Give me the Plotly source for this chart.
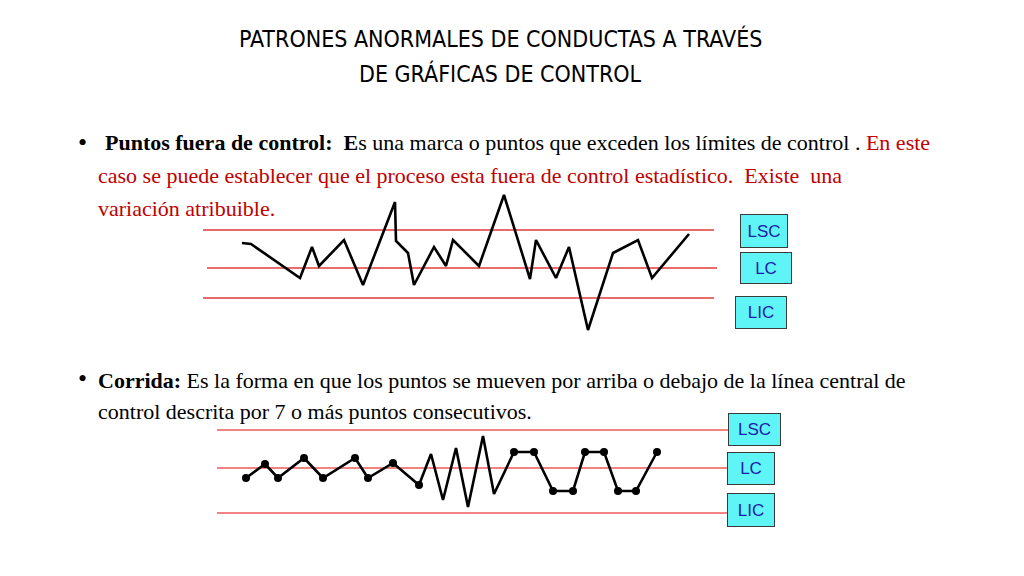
import plotly.graph_objects as go

# page has an 8px body margin; figure is sized to fill the rest
OFF = 8
W, H = 1024 - OFF, 576 - OFF

# ---- Chart 1: Puntos fuera de control ----
c1_x = [42, 51, 100, 112, 119, 144, 163, 195, 196, 208, 214, 234, 246, 253, 279,
        304, 330, 336, 356, 369, 388, 413, 438, 452, 489]
c1_y = [9.7, 9.6, 6.2, 9.3, 7.4, 10.0, 5.5, 13.8, 9.9, 8.7, 5.5, 9.3, 7.4, 10.0, 7.4,
        14.5, 6.1, 10.0, 6.2, 9.3, 1.0, 8.7, 10.0, 6.2, 10.6]
c1_limits = {"LSC": 11.0, "LC": 7.2, "LIC": 4.2}
c1_limit_x = {"LSC": [3, 514], "LC": [7, 517], "LIC": [3, 514]}

# ---- Chart 2: Corrida ----
c2_x = [36, 55, 68, 94, 113, 145, 158, 183, 209, 221, 233, 246, 258, 273, 284,
        304, 324, 343, 363, 375, 394, 408, 426, 447]
c2_y = [4.2, 5.6, 4.2, 6.2, 4.2, 6.2, 4.2, 5.7, 3.5, 6.6, 2.0, 7.2, 1.3, 8.4, 2.6,
        6.8, 6.8, 2.9, 2.9, 6.8, 6.8, 2.9, 2.9, 6.8]
c2_marked = [1, 1, 1, 1, 1, 1, 1, 1, 1, 0, 0, 0, 0, 0, 0,
             1, 1, 1, 1, 1, 1, 1, 1, 1]
c2_limits = {"LSC": 9.0, "LC": 5.2, "LIC": 0.7}
c2_limit_x = [7, 518]

limit_labels = ["LSC", "LC", "LIC"]

RED = "#E23B3B"
RED2 = "#EE5A5A"

def px(x):
    return (x - OFF) / W

def py(y):
    return 1 - (y - OFF) / H

def px_dom_x(a, b):
    return [px(a), px(b)]

def px_dom_y(top, bottom):
    return [py(bottom), py(top)]

fig = go.Figure()

# chart 1 limits
for name in limit_labels:
    fig.add_trace(go.Scatter(x=c1_limit_x[name], y=[c1_limits[name]] * 2, mode="lines",
                             line=dict(color=RED, width=1.3), xaxis="x", yaxis="y",
                             hoverinfo="skip", showlegend=False))
fig.add_trace(go.Scatter(x=c1_x, y=c1_y, mode="lines", line=dict(color="black", width=2.6),
                         xaxis="x", yaxis="y", showlegend=False))

# chart 2 limits
for name in limit_labels:
    fig.add_trace(go.Scatter(x=c2_limit_x, y=[c2_limits[name]] * 2, mode="lines",
                             line=dict(color=RED2, width=1.5), xaxis="x2", yaxis="y2",
                             hoverinfo="skip", showlegend=False))
fig.add_trace(go.Scatter(x=c2_x, y=c2_y, mode="lines", line=dict(color="black", width=2.6),
                         xaxis="x2", yaxis="y2", showlegend=False))
mx = [x for x, m in zip(c2_x, c2_marked) if m]
my = [y for y, m in zip(c2_y, c2_marked) if m]
fig.add_trace(go.Scatter(x=mx, y=my, mode="markers", marker=dict(color="black", size=8),
                         xaxis="x2", yaxis="y2", showlegend=False))

ax = dict(visible=False, fixedrange=True)
fig.update_layout(
    width=W, height=H, margin=dict(l=0, r=0, t=0, b=0),
    paper_bgcolor="white", plot_bgcolor="rgba(0,0,0,0)",
    xaxis=dict(ax, domain=px_dom_x(200, 720), range=[0, 520]),
    yaxis=dict(ax, domain=px_dom_y(190, 340), range=[0, 15]),
    xaxis2=dict(ax, domain=px_dom_x(210, 730), range=[0, 520]),
    yaxis2=dict(ax, domain=px_dom_y(420, 520), range=[0, 10]),
)

TITLE_FONT = "DejaVu Sans Condensed, Liberation Sans Narrow, sans-serif"
BODY_FONT = "Liberation Serif, serif"

def txt(text, x, y, size, font=BODY_FONT, color="black", anchor="left"):
    fig.add_annotation(text=text, x=px(x), y=py(y), xref="paper", yref="paper",
                       xanchor=anchor, yanchor="middle", showarrow=False,
                       font=dict(family=font, size=size, color=color))

txt("PATRONES ANORMALES DE CONDUCTAS A TRAVÉS", 500, 38, 23, TITLE_FONT, anchor="center")
txt("DE GRÁFICAS DE CONTROL", 500, 73, 23, TITLE_FONT, anchor="center")

DR = "#C00000"
txt("•", 76, 142, 26)
txt("<b>Puntos fuera de control:</b>  <b>E</b>s una marca o puntos que exceden los límites de control . "
    f"<span style='color:{DR}'>En este</span>", 103, 143, 22)
txt("caso se puede establecer que el proceso esta fuera de control estadístico.  Existe  una",
    96, 175, 22, color=DR)
txt("variación atribuible.", 96, 208, 22, color=DR)

txt("•", 76, 378, 26)
txt("<b>Corrida:</b> Es la forma en que los puntos se mueven por arriba o debajo de la línea central de",
    96, 380, 22)
txt("control descrita por 7 o más puntos consecutivos.", 96, 411, 22)

# limit label boxes
def box(label, cx, cy, w, h):
    fig.add_annotation(text=label, x=px(cx), y=py(cy), xref="paper", yref="paper",
                       xanchor="center", yanchor="middle", showarrow=False,
                       width=w, height=h, bgcolor="#5FF5F7", bordercolor="#3A3A3A",
                       borderwidth=1, borderpad=0,
                       font=dict(family="Liberation Sans, Arial", size=17, color="#1C1CA8"))

box("LSC", 764, 231, 46, 32)
box("LC", 766, 268, 50, 30)
box("LIC", 761, 312, 50, 31)
box("LSC", 754, 429, 51, 31)
box("LC", 751, 468, 46, 31)
box("LIC", 751, 510, 46, 32)

fig.write_html("out.html")
